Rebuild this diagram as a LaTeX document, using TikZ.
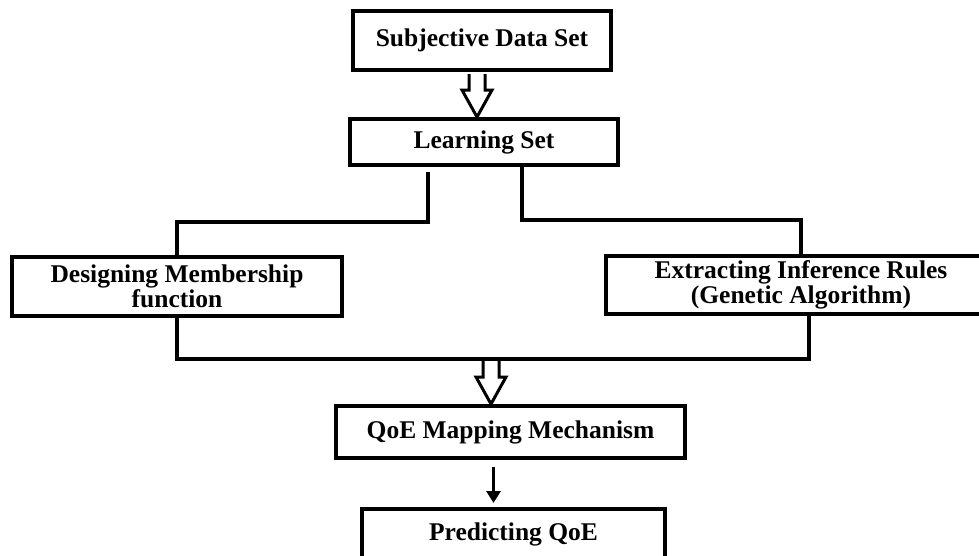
\documentclass[tikz,border=0pt]{standalone}
\usepackage{fontspec}
\setmainfont{Liberation Serif}
\usetikzlibrary{positioning,arrows.meta,calc}

\newcommand{\hollowdown}[2]{%
  \draw[hollow] let \p1=(#1), \p2=(#2) in
    (\x1-8,\y1-2) -- (\x1-8,\y2+27) -- (\x1-15,\y2+27) -- (\x1,\y2)
    -- (\x1+15,\y2+27) -- (\x1+8,\y2+27) -- (\x1+8,\y1-2);}

\begin{document}
\begin{tikzpicture}[x=1pt, y=-1pt,
                box/.style = {draw, line width=4pt, fill=white, inner sep=0pt, align=center,
                              font=\fontsize{25.5}{25}\selectfont\bfseries},
                link/.style = {line width=4pt},
                hollow/.style = {line width=3pt, fill=white, line join=miter},
                flow/.style = {line width=3.5pt, -{Triangle[width=14pt,length=12pt]}}]
            \useasboundingbox (0,0) rectangle (979,555);
            \clip (0,0) rectangle (979,555);
            \node[box, minimum width=258, minimum height=59] (data) at (482,40.5) {Subjective Data Set};
            \node[box, minimum width=268, minimum height=46] (learn) at (484,142) {Learning Set};
            \node[box, minimum width=330, minimum height=59] (member) at (177,286.5) {Designing Membership\\function};
            \node[box, minimum width=390, minimum height=58] (rules) at (801,285) {Extracting Inference Rules\\(Genetic Algorithm)};
            \node[box, minimum width=349, minimum height=52] (mapping) at (510.5,432) {QoE Mapping Mechanism};
            \node[box, minimum width=303, minimum height=50] (predict) at (513.5,534) {Predicting QoE};
            \coordinate (join) at (491,359);
            \hollowdown{[xshift=-5]data.south}{learn.north}
            \draw[link] ([xshift=-56,yshift=-5]learn.south) -- ++(0,50) -| (member.north);
            \draw[link] ([xshift=38]learn.south) -- ++(0,53) -| (rules.north);
            \draw[link] (member.south) |- (join) -| ([xshift=8]rules.south);
            \hollowdown{join}{mapping.north}
            \draw[flow] ([xshift=-17,yshift=-7]mapping.south) -- ([xshift=-20,yshift=4]predict.north);
            \end{tikzpicture}
\end{document}
